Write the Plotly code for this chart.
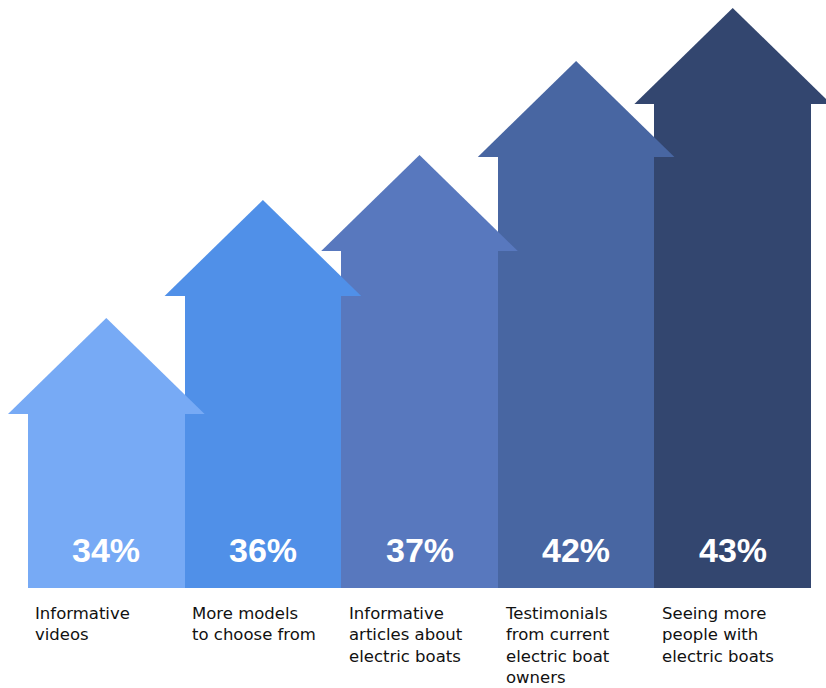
import plotly.graph_objects as go

categories = [
    "Informative<br>videos",
    "More models<br>to choose from",
    "Informative<br>articles about<br>electric boats",
    "Testimonials<br>from current<br>electric boat<br>owners",
    "Seeing more<br>people with<br>electric boats",
]
values = [34, 36, 37, 42, 43]
# visual arrow shaft heights (decorative, not to scale with values)
arrow_height = [174, 292, 337, 431, 484]
colors = ["#77AAF5", "#5090E8", "#5878BE", "#4866A2", "#33466F"]

HEAD_H = 96
OVERHANG = 20 / 156.6

fig = go.Figure()
xs = list(range(len(values)))
fig.add_trace(go.Bar(
    x=xs, y=arrow_height, width=1, marker=dict(color=colors, line=dict(width=0)),
    hoverinfo="skip", showlegend=False,
))
for i, h in enumerate(arrow_height):
    fig.add_trace(go.Scatter(
        x=[i - 0.5 - OVERHANG, i, i + 0.5 + OVERHANG, i - 0.5 - OVERHANG],
        y=[h, h + HEAD_H, h, h],
        fill="toself", fillcolor=colors[i], mode="lines",
        line=dict(width=0, color=colors[i]), hoverinfo="skip", showlegend=False,
    ))

for i, (v, c) in enumerate(zip(values, categories)):
    fig.add_annotation(
        x=i, y=38, text=f"{v}%", showarrow=False, xanchor="center", yanchor="middle",
        font=dict(family="Liberation Sans", size=34, color="white", weight="bold"),
    )
    fig.add_annotation(
        x=i - 0.5 + 0.035, y=-14, text=c, showarrow=False, xanchor="left", yanchor="top",
        align="left", font=dict(family="DejaVu Sans", size=16.5, color="#111111"),
    )

fig.update_layout(
    width=826, height=688, margin=dict(l=0, r=0, t=0, b=0),
    paper_bgcolor="white", plot_bgcolor="white", bargap=0,
    xaxis=dict(range=[-0.5 - 28 / 156.6, 4.5 + 15 / 156.6], visible=False, fixedrange=True),
    yaxis=dict(range=[-100, 588], visible=False, fixedrange=True),
)
fig.write_html("out.html", config={"displayModeBar": False},
               post_script="document.body.style.margin='0';")
